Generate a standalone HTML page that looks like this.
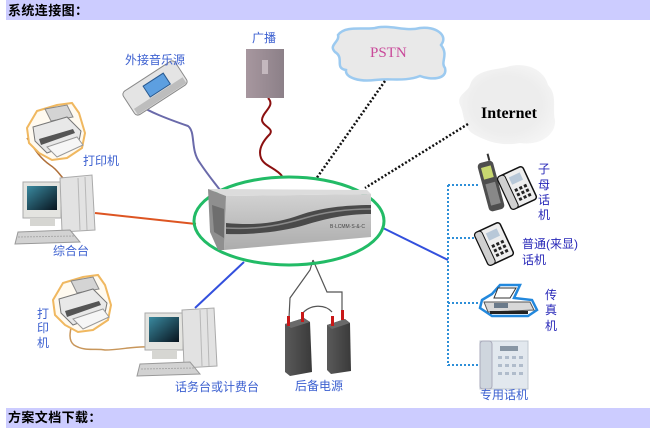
<!DOCTYPE html>
<html><head><meta charset="utf-8">
<style>
html,body{margin:0;padding:0;background:#fff;width:650px;height:432px;overflow:hidden}
svg{display:block}
.l{font-family:"Liberation Sans","Noto Sans CJK SC",sans-serif;font-size:12px;fill:#3c60d0}
.r{font-family:"Liberation Sans","Noto Sans CJK SC",sans-serif;font-size:12px;fill:#2828b8}
.h{font-family:"Liberation Sans","Noto Sans CJK SC",sans-serif;font-size:13px;font-weight:bold;fill:#000;letter-spacing:0.4px}
</style></head><body>
<svg width="650" height="432" viewBox="0 0 650 432" xmlns="http://www.w3.org/2000/svg">
<defs>
<linearGradient id="scr" x1="0" y1="0" x2="1" y2="1"><stop offset="0" stop-color="#3a8aa0"/><stop offset="1" stop-color="#08141e"/></linearGradient>
<linearGradient id="dev" x1="0" y1="0" x2="0" y2="1"><stop offset="0" stop-color="#d2d2d2"/><stop offset="1" stop-color="#acacac"/></linearGradient>
<linearGradient id="bc" x1="0" y1="0" x2="1" y2="0"><stop offset="0" stop-color="#a7979f"/><stop offset="1" stop-color="#8c8088"/></linearGradient>
<linearGradient id="bat" x1="0" y1="0" x2="1" y2="0"><stop offset="0" stop-color="#5a5a5a"/><stop offset="1" stop-color="#3a3a3a"/></linearGradient>
<radialGradient id="cl" cx="0.5" cy="0.5" r="0.6"><stop offset="0.6" stop-color="#ededed"/><stop offset="1" stop-color="#f6f6f6"/></radialGradient>
</defs>

<!-- header bars -->
<rect x="6" y="0" width="644" height="20" fill="#ccccff"/>
<text class="h" x="8" y="15">系统连接图：</text>
<rect x="6" y="408" width="644" height="20" fill="#ccccff"/>
<text class="h" x="8" y="422">方案文档下载：</text>

<!-- clouds -->
<path d="M338,35 C345,25 365,30 375,28 C390,24 405,32 420,28 C435,26 449,35 441,45 C449,55 440,62 445,68 C448,80 430,80 420,76 C405,82 390,78 375,80 C360,82 345,78 346,70 C334,68 345,58 335,52 C328,45 340,42 338,35 Z" fill="#e9e9e9" stroke="#9ccaf0" stroke-width="2.5"/>
<text x="370" y="57" font-family="Liberation Serif,serif" font-size="15" fill="#c94a9a">PSTN</text>
<path d="M470,85 C475,68 500,70 510,66 C530,62 545,72 548,85 C558,95 552,110 555,120 C556,135 540,146 520,143 C500,147 485,140 475,135 C462,128 465,115 460,105 C456,95 468,92 470,85Z" fill="url(#cl)"/>
<text x="481" y="118" font-family="Liberation Serif,serif" font-size="16" font-weight="bold" fill="#000">Internet</text>

<!-- connectors -->
<path d="M137,104 C150,112 165,118 188,126 C196,132 190,150 200,163 C208,175 214,182 220,190" fill="none" stroke="#6a6aaa" stroke-width="2"/>
<path d="M268,98 C276,106 262,112 262,120 C262,126 274,128 270,134 C262,142 258,150 261,158 C264,166 276,168 282,176" fill="none" stroke="#8b1010" stroke-width="2"/>
<line x1="385" y1="81" x2="316" y2="179" stroke="#111" stroke-width="2.5" stroke-dasharray="2,2"/>
<line x1="468" y1="124" x2="365" y2="188" stroke="#111" stroke-width="2.5" stroke-dasharray="2,2"/>
<line x1="95" y1="213" x2="196" y2="224" stroke="#dd5522" stroke-width="2"/>
<line x1="195" y1="308" x2="244" y2="262" stroke="#3350dd" stroke-width="2"/>
<line x1="383" y1="228" x2="448" y2="260" stroke="#3350dd" stroke-width="2"/>
<g stroke="#2e8fd8" stroke-width="2" stroke-dasharray="2,2" fill="none">
<line x1="448" y1="185" x2="448" y2="366"/>
<line x1="448" y1="185" x2="478" y2="185"/>
<line x1="448" y1="238" x2="475" y2="238"/>
<line x1="448" y1="303" x2="478" y2="303"/>
<line x1="448" y1="365" x2="478" y2="365"/>
</g>
<path d="M27,138 C35,150 40,158 50,165 C58,170 60,176 65,180" fill="none" stroke="#b0703a" stroke-width="1.5"/>
<path d="M72,323 C70,332 68,340 74,345 C85,352 95,348 105,350 C120,350 135,346 147,347" fill="none" stroke="#c8965a" stroke-width="1.5"/>
<!-- battery wires -->
<g fill="none" stroke="#555" stroke-width="1.2">
<path d="M313,260 L310,270 L290,298 L289,318"/>
<path d="M313,260 L327,292 L342,292 L342,310"/>
<path d="M302,314 C310,304 325,304 332,312"/>
</g>

<!-- central device -->
<ellipse cx="289" cy="221" rx="95" ry="44" fill="none" stroke="#22bb66" stroke-width="3"/>
<polygon points="208,189 367,190 371,194 226,196" fill="#dcdcdc"/>
<polygon points="226,196 371,194 371,237 224,250" fill="url(#dev)"/>
<polygon points="208,189 226,196 224,250 218,250 210,232" fill="#8f8f8f"/>
<path d="M212,205 L224,209 L224,238 L214,232 Z" fill="#6e6e6e"/>
<path d="M226,223 C260,226 280,222 300,215 C320,208 345,205 371,205 L371,214 C345,214 325,219 305,225 C285,231 255,235 226,234 Z" fill="#4a4a4a"/>
<path d="M226,228 C260,230 285,224 305,218 C325,212 348,209 371,209" fill="none" stroke="#8a8a8a" stroke-width="1.5"/>
<text x="330" y="228" font-family="Liberation Sans,sans-serif" font-size="5" fill="#444">B·LCMM·S·&amp;·C</text>

<!-- music source -->
<g transform="translate(155,88) rotate(-33)">
<rect x="-31" y="-14" width="62" height="28" rx="4" fill="#e4e4e4" stroke="#8a8a8a"/>
<rect x="-9" y="-8" width="24" height="13" fill="#5d9fe0" stroke="#2a5a90"/>
<rect x="-29" y="6" width="58" height="7" fill="#bdbdbd"/>
</g>
<text class="l" x="125" y="64">外接音乐源</text>

<!-- broadcast -->
<rect x="246" y="49" width="38" height="49" fill="url(#bc)"/>
<rect x="262" y="60" width="6" height="14" fill="#c4b8be"/>
<text class="l" x="252" y="42">广播</text>

<!-- printer 1 -->
<g transform="translate(27,103)">
<polygon points="10,8 30,2 45,0 52,10 58,30 55,45 40,55 25,57 12,50 2,40 0,25" fill="#fffaf0" stroke="#f0b860" stroke-width="2"/>
<polygon points="18,6 40,2 46,14 24,18" fill="#d4d4d4" stroke="#888"/>
<polygon points="6,24 40,14 54,28 52,38 20,50 8,38" fill="#e8e8e8" stroke="#777"/>
<polygon points="12,36 46,26 48,30 14,42" fill="#555"/>
<polygon points="20,44 50,34 56,42 30,54" fill="#f6f6f6" stroke="#999"/>
</g>
<text class="l" x="83" y="165">打印机</text>

<!-- computer 1 -->
<rect x="23" y="182" width="38" height="36" fill="#e4e4e0" stroke="#aaa"/>
<rect x="27" y="186" width="30" height="24" fill="url(#scr)"/>
<rect x="30" y="218" width="25" height="8" fill="#d6d6d2"/>
<polygon points="60,178 92,175 95,230 62,232" fill="#e2e2e2" stroke="#aaa"/>
<line x1="78" y1="178" x2="80" y2="230" stroke="#b8b8b8"/>
<line x1="85" y1="177" x2="87" y2="230" stroke="#b8b8b8"/>
<polygon points="18,232 70,230 80,242 15,244" fill="#d2d2d2" stroke="#999"/>
<line x1="18" y1="237" x2="75" y2="236" stroke="#aaa" stroke-dasharray="2,1"/>
<text class="l" x="53" y="255">综合台</text>

<!-- printer 2 -->
<g transform="translate(53,275)">
<polygon points="10,8 30,2 45,0 52,10 58,30 55,45 40,55 25,57 12,50 2,40 0,25" fill="#fffaf0" stroke="#f0b860" stroke-width="2"/>
<polygon points="18,6 40,2 46,14 24,18" fill="#d4d4d4" stroke="#888"/>
<polygon points="6,24 40,14 54,28 52,38 20,50 8,38" fill="#e8e8e8" stroke="#777"/>
<polygon points="12,36 46,26 48,30 14,42" fill="#555"/>
<polygon points="20,44 50,34 56,42 30,54" fill="#f6f6f6" stroke="#999"/>
</g>
<text class="l" x="37" y="318">打</text>
<text class="l" x="37" y="332">印</text>
<text class="l" x="37" y="347">机</text>

<!-- computer 2 -->
<rect x="145" y="313" width="38" height="37" fill="#e4e4e0" stroke="#aaa"/>
<rect x="149" y="317" width="30" height="25" fill="url(#scr)"/>
<rect x="152" y="350" width="25" height="9" fill="#d6d6d2"/>
<polygon points="182,310 214,308 217,366 184,368" fill="#e2e2e2" stroke="#aaa"/>
<line x1="200" y1="310" x2="202" y2="366" stroke="#b8b8b8"/>
<line x1="207" y1="309" x2="209" y2="366" stroke="#b8b8b8"/>
<polygon points="140,364 190,362 200,374 137,376" fill="#d2d2d2" stroke="#999"/>
<line x1="141" y1="369" x2="195" y2="368" stroke="#aaa" stroke-dasharray="2,1"/>
<text class="l" x="175" y="391">话务台或计费台</text>

<!-- batteries -->
<polygon points="285,324 304,318 310,322 312,372 290,376 285,372" fill="url(#bat)"/>
<polygon points="285,324 304,318 310,322 291,328" fill="#6a6a6a"/>
<polygon points="327,325 345,319 350,323 351,371 331,374 327,370" fill="url(#bat)"/>
<polygon points="327,325 345,319 350,323 332,329" fill="#6a6a6a"/>
<rect x="287" y="316" width="3" height="10" fill="#c81818"/>
<rect x="301" y="312" width="3" height="10" fill="#c81818"/>
<rect x="331" y="316" width="3" height="10" fill="#c81818"/>
<rect x="341" y="310" width="3" height="10" fill="#c81818"/>
<text class="l" x="295" y="390">后备电源</text>

<!-- mobile + desk phone -->
<g transform="translate(491,186) rotate(-15)">
<rect x="-8" y="-25" width="16" height="50" rx="4" fill="#4e4e4e"/>
<rect x="-5" y="-20" width="10" height="12" fill="#c8d870"/>
<rect x="-5" y="-3" width="10" height="22" fill="#888"/>
<line x1="5" y1="-25" x2="5" y2="-32" stroke="#333" stroke-width="2"/>
</g>
<g transform="translate(517,188) rotate(-25)">
<rect x="-14" y="-18" width="28" height="36" rx="3" fill="#eee" stroke="#111" stroke-width="1.5"/>
<rect x="-14" y="-18" width="8" height="36" rx="3" fill="#d0d0d0" stroke="#111"/>
<g fill="#222"><rect x="-3" y="0" width="3" height="3"/><rect x="2" y="0" width="3" height="3"/><rect x="7" y="0" width="3" height="3"/><rect x="-3" y="5" width="3" height="3"/><rect x="2" y="5" width="3" height="3"/><rect x="7" y="5" width="3" height="3"/><rect x="-3" y="10" width="3" height="3"/><rect x="2" y="10" width="3" height="3"/><rect x="7" y="10" width="3" height="3"/></g>
<rect x="-3" y="-13" width="12" height="8" fill="#b8c8d8"/>
</g>
<text class="r" x="538" y="173">子</text>
<text class="r" x="538" y="189">母</text>
<text class="r" x="538" y="204">话</text>
<text class="r" x="538" y="219">机</text>

<!-- phone 2 -->
<g transform="translate(494,244) rotate(-25)">
<rect x="-14" y="-18" width="28" height="36" rx="3" fill="#eee" stroke="#111" stroke-width="1.5"/>
<rect x="-14" y="-18" width="8" height="36" rx="3" fill="#d0d0d0" stroke="#111"/>
<g fill="#222"><rect x="-3" y="0" width="3" height="3"/><rect x="2" y="0" width="3" height="3"/><rect x="7" y="0" width="3" height="3"/><rect x="-3" y="5" width="3" height="3"/><rect x="2" y="5" width="3" height="3"/><rect x="7" y="5" width="3" height="3"/><rect x="-3" y="10" width="3" height="3"/><rect x="2" y="10" width="3" height="3"/><rect x="7" y="10" width="3" height="3"/></g>
<rect x="-3" y="-13" width="12" height="8" fill="#b8c8d8"/>
</g>
<text class="r" x="522" y="248">普通(来显)</text>
<text class="r" x="522" y="264">话机</text>

<!-- fax -->
<polygon points="482,300 492,294 500,285 520,285 514,298 532,300 537,310 528,316 492,316 480,308" fill="#fff" stroke="#2288dd" stroke-width="2.5"/>
<polygon points="498,288 516,288 510,298 494,298" fill="#fff" stroke="#333"/>
<polygon points="484,302 530,302 534,310 488,312" fill="#d8d8d8" stroke="#555"/>
<rect x="494" y="303" width="14" height="5" fill="#6a7a8a"/>
<rect x="490" y="311" width="38" height="3" fill="#222"/>
<text class="r" x="545" y="299">传</text>
<text class="r" x="545" y="314">真</text>
<text class="r" x="545" y="330">机</text>

<!-- dedicated phone -->
<rect x="480" y="341" width="48" height="48" fill="#e2e8ee" stroke="#c0c8d0"/>
<rect x="480" y="341" width="12" height="48" rx="3" fill="#cfd6de" stroke="#aab"/>
<rect x="500" y="346" width="18" height="5" fill="#8896a4"/>
<g fill="#b0bccb"><rect x="498" y="356" width="4" height="3"/><rect x="505" y="356" width="4" height="3"/><rect x="512" y="356" width="4" height="3"/><rect x="519" y="356" width="4" height="3"/><rect x="498" y="364" width="4" height="3"/><rect x="505" y="364" width="4" height="3"/><rect x="512" y="364" width="4" height="3"/><rect x="519" y="364" width="4" height="3"/><rect x="498" y="372" width="4" height="3"/><rect x="505" y="372" width="4" height="3"/><rect x="512" y="372" width="4" height="3"/><rect x="519" y="372" width="4" height="3"/></g>
<text class="l" x="480" y="399">专用话机</text>
</svg>
</body></html>
